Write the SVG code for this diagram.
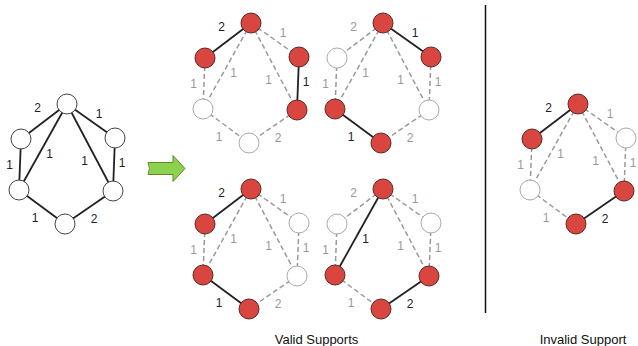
<svg xmlns="http://www.w3.org/2000/svg" width="638" height="346" viewBox="0 0 638 346">
<style>
.e{stroke:#222;stroke-width:1.8;fill:none}
.d{stroke:#999;stroke-width:1.5;stroke-dasharray:5 3;fill:none}
.r{fill:#d9463f;stroke:#5a2a28;stroke-width:1}
.w{fill:#fff;stroke:#aaa;stroke-width:1}
.w0{fill:#fff;stroke:#444;stroke-width:1}
text{font-family:"Liberation Sans",Arial,sans-serif}
.lb{font-size:12px;fill:#222;text-anchor:middle}
.lg{font-size:12px;fill:#999;text-anchor:middle}
.cap{font-size:13px;fill:#111;text-anchor:middle}
</style>

<!-- Original graph -->
<g id="g0">
<g id="g0-edges">
<line class="e" x1="67" y1="104" x2="21" y2="139"/>
<line class="e" x1="67" y1="104" x2="115" y2="138"/>
<line class="e" x1="21" y1="139" x2="19" y2="190"/>
<line class="e" x1="67" y1="104" x2="19" y2="190"/>
<line class="e" x1="67" y1="104" x2="113" y2="191"/>
<line class="e" x1="115" y1="138" x2="113" y2="191"/>
<line class="e" x1="19" y1="190" x2="65" y2="224"/>
<line class="e" x1="113" y1="191" x2="65" y2="224"/>
</g>
<g id="g0-labels">
<text class="lb" x="37.5" y="111.5">2</text>
<text class="lb" x="99" y="117.5">1</text>
<text class="lb" x="9.5" y="168.5">1</text>
<text class="lb" x="49.5" y="158">1</text>
<text class="lb" x="84.5" y="165">1</text>
<text class="lb" x="122" y="167">1</text>
<text class="lb" x="35" y="222">1</text>
<text class="lb" x="94" y="222.5">2</text>
</g>
<g id="g0-T"><circle class="w0" cx="67" cy="104" r="10"/></g>
<g id="g0-LU"><circle class="w0" cx="21" cy="139" r="10"/></g>
<g id="g0-RU"><circle class="w0" cx="115" cy="138" r="10"/></g>
<g id="g0-LL"><circle class="w0" cx="19" cy="190" r="10"/></g>
<g id="g0-RL"><circle class="w0" cx="113" cy="191" r="10"/></g>
<g id="g0-B"><circle class="w0" cx="65" cy="224" r="10"/></g>
</g>

<!-- Arrow -->
<g id="arrow">
<path d="M148,162.5 L173,162.5 L173,155.5 L185,168.5 L173,181.5 L173,174.5 L148,174.5 Q151,168.5 148,162.5 Z" fill="#8dd24d" stroke="#5b8a2c" stroke-width="1"/>
</g>

<!-- Valid 1 -->
<g id="g1" transform="translate(184,-81)">
<g id="g1-edges">
<line class="e" x1="67" y1="104" x2="21" y2="139"/>
<line class="d" x1="67" y1="104" x2="115" y2="138"/>
<line class="d" x1="21" y1="139" x2="19" y2="190"/>
<line class="d" x1="67" y1="104" x2="19" y2="190"/>
<line class="d" x1="67" y1="104" x2="113" y2="191"/>
<line class="e" x1="115" y1="138" x2="113" y2="191"/>
<line class="d" x1="19" y1="190" x2="65" y2="224"/>
<line class="d" x1="113" y1="191" x2="65" y2="224"/>
</g>
<g id="g1-labels">
<text class="lb" x="37.5" y="111.5">2</text>
<text class="lg" x="99" y="117.5">1</text>
<text class="lg" x="9.5" y="168.5">1</text>
<text class="lg" x="49.5" y="158">1</text>
<text class="lg" x="84.5" y="165">1</text>
<text class="lb" x="122" y="167">1</text>
<text class="lg" x="35" y="222">1</text>
<text class="lg" x="94" y="222.5">2</text>
</g>
<g id="g1-T"><circle class="r" cx="67" cy="104" r="10"/></g>
<g id="g1-LU"><circle class="r" cx="21" cy="139" r="10"/></g>
<g id="g1-RU"><circle class="r" cx="115" cy="138" r="10"/></g>
<g id="g1-LL"><circle class="w" cx="19" cy="190" r="10"/></g>
<g id="g1-RL"><circle class="r" cx="113" cy="191" r="10"/></g>
<g id="g1-B"><circle class="w" cx="65" cy="224" r="10"/></g>
</g>

<!-- Valid 2 -->
<g id="g2" transform="translate(316,-81)">
<g id="g2-edges">
<line class="d" x1="67" y1="104" x2="21" y2="139"/>
<line class="e" x1="67" y1="104" x2="115" y2="138"/>
<line class="d" x1="21" y1="139" x2="19" y2="190"/>
<line class="d" x1="67" y1="104" x2="19" y2="190"/>
<line class="d" x1="67" y1="104" x2="113" y2="191"/>
<line class="d" x1="115" y1="138" x2="113" y2="191"/>
<line class="e" x1="19" y1="190" x2="65" y2="224"/>
<line class="d" x1="113" y1="191" x2="65" y2="224"/>
</g>
<g id="g2-labels">
<text class="lg" x="37.5" y="111.5">2</text>
<text class="lb" x="99" y="117.5">1</text>
<text class="lg" x="9.5" y="168.5">1</text>
<text class="lg" x="49.5" y="158">1</text>
<text class="lg" x="84.5" y="165">1</text>
<text class="lg" x="122" y="167">1</text>
<text class="lb" x="35" y="222">1</text>
<text class="lg" x="94" y="222.5">2</text>
</g>
<g id="g2-T"><circle class="r" cx="67" cy="104" r="10"/></g>
<g id="g2-LU"><circle class="w" cx="21" cy="139" r="10"/></g>
<g id="g2-RU"><circle class="r" cx="115" cy="138" r="10"/></g>
<g id="g2-LL"><circle class="r" cx="19" cy="190" r="10"/></g>
<g id="g2-RL"><circle class="w" cx="113" cy="191" r="10"/></g>
<g id="g2-B"><circle class="r" cx="65" cy="224" r="10"/></g>
</g>

<!-- Valid 3 -->
<g id="g3" transform="translate(184,85)">
<g id="g3-edges">
<line class="e" x1="67" y1="104" x2="21" y2="139"/>
<line class="d" x1="67" y1="104" x2="115" y2="138"/>
<line class="d" x1="21" y1="139" x2="19" y2="190"/>
<line class="d" x1="67" y1="104" x2="19" y2="190"/>
<line class="d" x1="67" y1="104" x2="113" y2="191"/>
<line class="d" x1="115" y1="138" x2="113" y2="191"/>
<line class="e" x1="19" y1="190" x2="65" y2="224"/>
<line class="d" x1="113" y1="191" x2="65" y2="224"/>
</g>
<g id="g3-labels">
<text class="lb" x="37.5" y="111.5">2</text>
<text class="lg" x="99" y="117.5">1</text>
<text class="lg" x="9.5" y="168.5">1</text>
<text class="lg" x="49.5" y="158">1</text>
<text class="lg" x="84.5" y="165">1</text>
<text class="lg" x="122" y="167">1</text>
<text class="lb" x="35" y="222">1</text>
<text class="lg" x="94" y="222.5">2</text>
</g>
<g id="g3-T"><circle class="r" cx="67" cy="104" r="10"/></g>
<g id="g3-LU"><circle class="r" cx="21" cy="139" r="10"/></g>
<g id="g3-RU"><circle class="w" cx="115" cy="138" r="10"/></g>
<g id="g3-LL"><circle class="r" cx="19" cy="190" r="10"/></g>
<g id="g3-RL"><circle class="w" cx="113" cy="191" r="10"/></g>
<g id="g3-B"><circle class="r" cx="65" cy="224" r="10"/></g>
</g>

<!-- Valid 4 -->
<g id="g4" transform="translate(316,85)">
<g id="g4-edges">
<line class="d" x1="67" y1="104" x2="21" y2="139"/>
<line class="d" x1="67" y1="104" x2="115" y2="138"/>
<line class="d" x1="21" y1="139" x2="19" y2="190"/>
<line class="e" x1="67" y1="104" x2="19" y2="190"/>
<line class="d" x1="67" y1="104" x2="113" y2="191"/>
<line class="d" x1="115" y1="138" x2="113" y2="191"/>
<line class="d" x1="19" y1="190" x2="65" y2="224"/>
<line class="e" x1="113" y1="191" x2="65" y2="224"/>
</g>
<g id="g4-labels">
<text class="lg" x="37.5" y="111.5">2</text>
<text class="lg" x="99" y="117.5">1</text>
<text class="lg" x="9.5" y="168.5">1</text>
<text class="lb" x="49.5" y="158">1</text>
<text class="lg" x="84.5" y="165">1</text>
<text class="lg" x="122" y="167">1</text>
<text class="lg" x="35" y="222">1</text>
<text class="lb" x="94" y="222.5">2</text>
</g>
<g id="g4-T"><circle class="r" cx="67" cy="104" r="10"/></g>
<g id="g4-LU"><circle class="w" cx="21" cy="139" r="10"/></g>
<g id="g4-RU"><circle class="w" cx="115" cy="138" r="10"/></g>
<g id="g4-LL"><circle class="r" cx="19" cy="190" r="10"/></g>
<g id="g4-RL"><circle class="r" cx="113" cy="191" r="10"/></g>
<g id="g4-B"><circle class="r" cx="65" cy="224" r="10"/></g>
</g>

<!-- Divider -->
<line x1="485.5" y1="5" x2="485.5" y2="313" stroke="#111" stroke-width="1.5"/>

<!-- Invalid -->
<g id="g5" transform="translate(511,0)">
<g id="g5-edges">
<line class="e" x1="67" y1="104" x2="21" y2="139"/>
<line class="d" x1="67" y1="104" x2="115" y2="138"/>
<line class="d" x1="21" y1="139" x2="19" y2="190"/>
<line class="d" x1="67" y1="104" x2="19" y2="190"/>
<line class="d" x1="67" y1="104" x2="113" y2="191"/>
<line class="d" x1="115" y1="138" x2="113" y2="191"/>
<line class="d" x1="19" y1="190" x2="65" y2="224"/>
<line class="e" x1="113" y1="191" x2="65" y2="224"/>
</g>
<g id="g5-labels">
<text class="lb" x="37.5" y="111.5">2</text>
<text class="lg" x="99" y="117.5">1</text>
<text class="lg" x="9.5" y="168.5">1</text>
<text class="lg" x="49.5" y="158">1</text>
<text class="lg" x="84.5" y="165">1</text>
<text class="lg" x="122" y="167">1</text>
<text class="lg" x="35" y="222">1</text>
<text class="lb" x="94" y="222.5">2</text>
</g>
<g id="g5-T"><circle class="r" cx="67" cy="104" r="10"/></g>
<g id="g5-LU"><circle class="r" cx="21" cy="139" r="10"/></g>
<g id="g5-RU"><circle class="w" cx="115" cy="138" r="10"/></g>
<g id="g5-LL"><circle class="w" cx="19" cy="190" r="10"/></g>
<g id="g5-RL"><circle class="r" cx="113" cy="191" r="10"/></g>
<g id="g5-B"><circle class="r" cx="65" cy="224" r="10"/></g>
</g>

<text class="cap" x="316.5" y="344">Valid Supports</text>
<text class="cap" x="583" y="344">Invalid Support</text>
</svg>
